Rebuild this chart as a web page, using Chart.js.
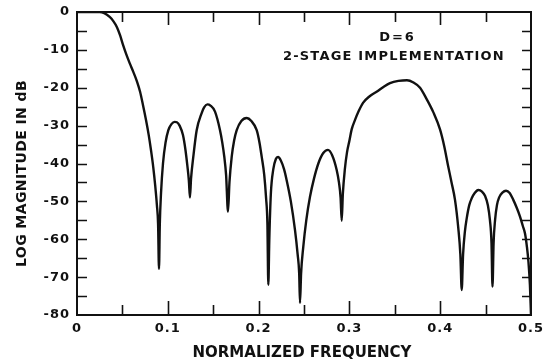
<!DOCTYPE html>
<html><head><meta charset="utf-8">
<script src="https://cdn.jsdelivr.net/npm/chart.js@4/dist/chart.umd.min.js"></script>
<style>html,body{margin:0;padding:0;background:#fff;}canvas{display:block;}</style>
</head><body>
<canvas id="c" width="550" height="362"></canvas>
<script>
const freq = [0,0.012,0.025,0.030,0.036,0.040,0.044,0.0475,0.0507,0.054,0.058,0.062,0.066,0.0694,0.0727,0.076,0.079,0.0815,0.084,0.0862,0.088,0.0893,0.0903,
0.0912,0.0925,0.0947,0.0975,0.1006,0.104,0.1075,0.110,0.113,0.1167,0.1195,0.1215,0.1232,0.1244,
0.1256,0.1281,0.1318,0.1373,0.140,0.1435,0.147,0.152,0.1575,0.160,0.1622,0.1642,0.1663,
0.1679,0.1704,0.173,0.1759,0.181,0.1869,0.192,0.1979,0.201,0.2034,0.2062,0.2082,0.2097,0.2107,
0.2118,0.2135,0.2162,0.219,0.2214,0.2245,0.228,0.2309,0.2355,0.2401,0.243,0.2447,0.2456,
0.2468,0.2492,0.2525,0.2566,0.261,0.2658,0.271,0.2764,0.281,0.286,0.2885,0.2903,0.2915,
0.2928,0.295,0.2974,0.300,0.3025,0.3062,0.310,0.315,0.322,0.3304,0.3375,0.3447,0.354,0.3634,0.3705,0.3778,0.3851,0.3925,0.3998,0.4045,0.4086,0.4125,0.4163,0.4199,0.4222,0.4237,
0.4252,0.4272,0.4292,0.432,0.4347,0.438,0.442,0.446,0.4495,0.4525,0.4548,0.4565,0.4576,
0.4588,0.4604,0.4625,0.4648,0.4685,0.4725,0.4765,0.4805,0.4845,0.4879,0.491,0.4934,0.4955,0.4972,0.4988,0.5];
const magDb = [0,0,0,-0.3,-1.3,-2.4,-4,-6.2,-8.7,-11,-13.5,-15.8,-18.3,-21,-24.6,-28.5,-32.5,-36.5,-41,-46,-51,-56,-67.8,
-56,-48,-40,-34.5,-31.2,-29.6,-29,-29.1,-30,-32.5,-36.5,-40.5,-44.5,-49,
-44,-38.2,-31.2,-26.7,-25.2,-24.4,-24.7,-26.3,-31.2,-34.5,-38.2,-43,-52.7,
-45,-38.2,-34,-31.2,-28.8,-28,-28.8,-31.2,-34.5,-38.2,-43,-49,-56,-72,
-60,-48,-41.5,-38.8,-38.3,-39.2,-41.5,-44.4,-50,-57.6,-64,-69,-76.8,
-69,-62,-55,-48.8,-44,-40,-37.3,-36.4,-37.8,-41.7,-45,-49,-55.1,
-48,-41.5,-37,-34,-31,-28.5,-26.3,-24,-22.3,-21,-19.8,-18.8,-18.2,-18,-18.6,-20,-23,-26.5,-31,-35.5,-40.5,-45,-49.6,-57,-64,-73.4,
-64,-58,-54.5,-51,-49.2,-47.8,-47,-47.4,-48.6,-51,-55,-61,-72.5,
-61,-55,-51,-49,-47.7,-47.2,-47.8,-49.6,-51.8,-54,-56.5,-58.5,-62,-66,-72,-80];
const xTickValues = [0,0.1,0.2,0.3,0.4,0.5];
const xTickLabels = ['0','0.1','0.2','0.3','0.4','0.5'];
const yTickValues = [0,-10,-20,-30,-40,-50,-60,-70,-80];
const yTickLabels = ['0','-10','-20','-30','-40','-50','-60','-70','-80'];
const xMarkTicks = [0.05,0.1,0.15,0.2,0.25,0.3,0.35,0.4,0.45];
const yMarkTicks = [-5,-10,-15,-20,-25,-30,-35,-40,-45,-50,-55,-60,-65,-70,-75];
const xTitle = 'NORMALIZED FREQUENCY';
const yTitle = 'LOG MAGNITUDE IN dB';
const noteLines = ['D=6','2-STAGE IMPLEMENTATION'];

const INK = '#111';
const FONT = '"DejaVu Sans"';

function labelFor(vals, labels, v){
  const i = vals.findIndex(t => Math.abs(t - v) < 1e-9);
  return i >= 0 ? labels[i] : '';
}

const framePlugin = {
  id: 'frame',
  beforeDraw(chart){ chart.ctx.letterSpacing = '1px'; },
  afterDraw(chart){
    const {ctx, chartArea: a, scales: {x, y}} = chart;
    ctx.save();
    ctx.strokeStyle = INK;
    ctx.lineWidth = 2;
    ctx.strokeRect(a.left, a.top, a.right - a.left, a.bottom - a.top);
    ctx.lineWidth = 1.6;
    ctx.beginPath();
    xMarkTicks.forEach(v => {
      const px = Math.round(x.getPixelForValue(v)) + 0.5;
      const major = Math.abs(v * 10 - Math.round(v * 10)) < 1e-6;
      ctx.moveTo(px, a.bottom); ctx.lineTo(px, a.bottom - (major ? 14 : 10));
      ctx.moveTo(px, a.top); ctx.lineTo(px, a.top + (major ? 13 : 10));
    });
    yMarkTicks.forEach(v => {
      const py = Math.round(y.getPixelForValue(v)) + 0.5;
      ctx.moveTo(a.left, py); ctx.lineTo(a.left + 10, py);
      ctx.moveTo(a.right, py); ctx.lineTo(a.right - 9, py);
    });
    ctx.stroke();

    ctx.fillStyle = INK;
    ctx.textAlign = 'center';
    ctx.textBaseline = 'middle';
    ctx.letterSpacing = '0px';
    ctx.font = 'bold 15px ' + FONT;
    ctx.fillText(xTitle, (a.left + a.right) / 2 - 2, a.bottom + 38);
    ctx.save();
    ctx.translate(22, (a.top + a.bottom) / 2 + 10);
    ctx.rotate(-Math.PI / 2);
    ctx.letterSpacing = '0.4px';
    ctx.font = 'bold 14px ' + FONT;
    ctx.fillText(yTitle, 0, 0);
    ctx.restore();
    ctx.font = 'bold 13px ' + FONT;
    ctx.letterSpacing = '2px';
    ctx.fillText(noteLines[0], x.getPixelForValue(0.353), a.top + 26);
    ctx.letterSpacing = '1.2px';
    ctx.fillText(noteLines[1], x.getPixelForValue(0.349), a.top + 45);
    ctx.restore();
  }
};

const points = freq.map((f, i) => ({x: f, y: magDb[i]}));

new Chart(document.getElementById('c'), {
  type: 'line',
  data: {datasets: [{
    data: points, borderColor: INK, borderWidth: 2.4, pointRadius: 0,
    cubicInterpolationMode: 'monotone', fill: false
  }]},
  options: {
    responsive: false, animation: false, devicePixelRatio: 1,
    layout: {padding: {top: 12, right: 19, left: 0, bottom: 0}},
    plugins: {legend: {display: false}, tooltip: {enabled: false}},
    scales: {
      x: {
        type: 'linear', min: 0, max: 0.5,
        afterBuildTicks(s){ s.ticks = xTickValues.map(v => ({value: v})); },
        afterFit(s){ s.height = 47; s.paddingLeft = 0; s.paddingRight = 0; },
        ticks: {callback: v => labelFor(xTickValues, xTickLabels, v),
          font: {family: 'DejaVu Sans', size: 13, weight: 'bold'}, color: INK,
          padding: -2, maxRotation: 0, minRotation: 0, autoSkip: false},
        grid: {display: false}, border: {display: false}
      },
      y: {
        type: 'linear', min: -80, max: 0,
        afterBuildTicks(s){ s.ticks = yTickValues.map(v => ({value: v})); },
        afterFit(s){ s.width = 77; s.paddingTop = 0; s.paddingBottom = 0; },
        ticks: {callback: v => labelFor(yTickValues, yTickLabels, v),
          font: {family: 'DejaVu Sans', size: 13, weight: 'bold'}, color: INK,
          padding: -1, autoSkip: false},
        grid: {display: false}, border: {display: false}
      }
    }
  },
  plugins: [framePlugin]
});
</script>
</body></html>
